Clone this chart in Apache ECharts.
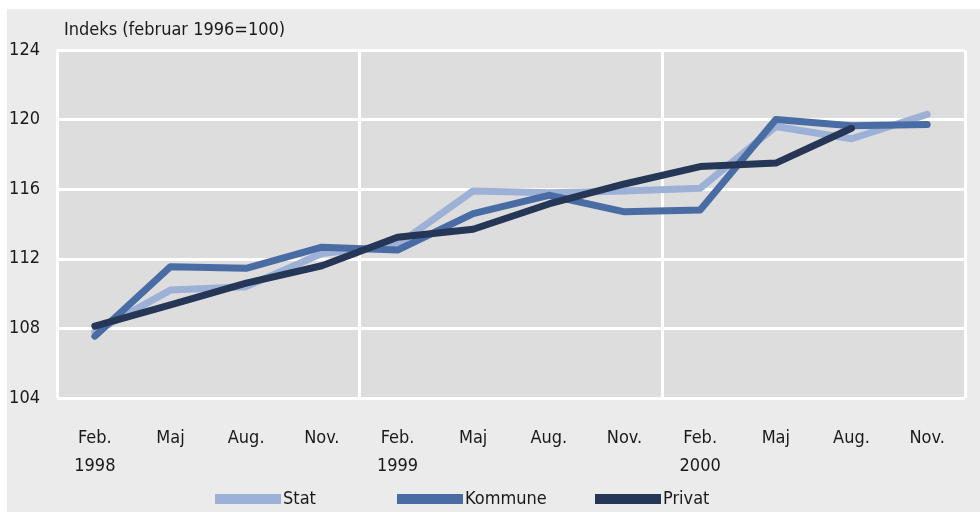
<!DOCTYPE html>
<html><head><meta charset="utf-8">
<script src="https://cdn.jsdelivr.net/npm/echarts@6/dist/echarts.min.js"></script>
<style>html,body{margin:0;padding:0;background:#fff}#c{width:980px;height:512px}</style>
</head><body><div id="c"></div>
<script>
const categories = ['Feb.\n1998','Maj','Aug.','Nov.','Feb.\n1999','Maj','Aug.','Nov.','Feb.\n2000','Maj','Aug.','Nov.'];
const stat    = [107.8,110.2,110.4,112.3,112.8,115.9,115.8,115.9,116.05,119.6,118.9,120.3];
const kommune = [107.55,111.55,111.45,112.67,112.5,114.6,115.65,114.7,114.8,120.0,119.65,119.72];
const privat  = [108.13,109.35,110.6,111.6,113.24,113.7,115.15,116.3,117.3,117.5,119.5,null];
const yTicks = {min:104, max:124, interval:4};

const FONT = '"DejaVu Sans Condensed","Liberation Sans Narrow",sans-serif';
const TXT = '#1a1a1a';
const colors = {Stat:'#9db0d6', Kommune:'#4a6ca4', Privat:'#253657'};

const chart = echarts.init(document.getElementById('c'), null, {renderer:'canvas'});
function leg(name, left){
  return {data:[name], left:left, top:485, itemWidth:66, itemHeight:10, itemGap:0,
    icon:'rect', textStyle:{fontFamily:FONT, fontSize:18, color:TXT, padding:[0,0,0,-3]}};
}
chart.setOption({
  backgroundColor:'#ffffff',
  animation:false,
  graphic:[{type:'rect', z:-10, shape:{x:7,y:9,width:973,height:503}, style:{fill:'#ebebeb'}}],
  title:{text:'Indeks (februar 1996=100)', left:59, top:16,
    textStyle:{fontFamily:FONT, fontSize:18, fontWeight:'normal', color:TXT}},
  legend:[leg('Stat',210), leg('Kommune',392), leg('Privat',590)],
  grid:{left:57, right:15, top:50, bottom:114, show:true, backgroundColor:'#dddddd', borderWidth:0, containLabel:false},
  xAxis:{type:'category', data:categories, boundaryGap:true,
    axisLine:{show:false}, axisTick:{show:false},
    axisLabel:{fontFamily:FONT, fontSize:18, color:TXT, lineHeight:28, margin:26, interval:0},
    splitLine:{show:true, interval:function(i){return i%4===0;}, lineStyle:{color:'#ffffff', width:3}}
  },
  yAxis:{type:'value', min:yTicks.min, max:yTicks.max, interval:yTicks.interval,
    axisLine:{show:false}, axisTick:{show:false},
    axisLabel:{fontFamily:FONT, fontSize:18, color:TXT, margin:17, padding:[4,0,0,0]},
    splitLine:{show:true, lineStyle:{color:'#ffffff', width:3}}
  },
  series:[
    {name:'Stat', type:'line', data:stat, symbol:'none', lineStyle:{width:7, color:colors.Stat, cap:'round', join:'round'}, itemStyle:{color:colors.Stat}, z:2},
    {name:'Kommune', type:'line', data:kommune, symbol:'none', lineStyle:{width:7, color:colors.Kommune, cap:'round', join:'round'}, itemStyle:{color:colors.Kommune}, z:3},
    {name:'Privat', type:'line', data:privat, symbol:'none', lineStyle:{width:7, color:colors.Privat, cap:'round', join:'round'}, itemStyle:{color:colors.Privat}, z:4}
  ]
});
</script></body></html>
